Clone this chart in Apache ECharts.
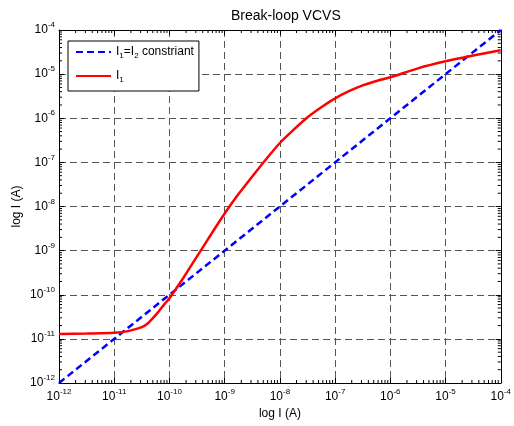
<!DOCTYPE html>
<html>
<head>
<meta charset="utf-8">
<script src="https://cdn.jsdelivr.net/npm/echarts@6/dist/echarts.min.js"></script>
<style>html,body{margin:0;padding:0;background:#fff}#c{width:514px;height:426px}</style>
</head>
<body>
<div id="c"></div>
<script>
const titleText = 'Break-loop VCVS';
const axisName = 'log I (A)';
const axisMin = 1e-12;
const axisMax = 1e-4;
const seriesNames = ['I1=I2 constriant', 'I1'];

const blueX = [1e-12, 1e-4];
const blueY = [1e-12, 1e-4];

const redX = [1e-12, 3.16e-12, 1e-11, 1.78e-11, 3.16e-11, 3.98e-11, 5.01e-11, 6.31e-11, 7.94e-11, 1e-10,
  1.26e-10, 1.78e-10, 3.16e-10, 5.62e-10, 1e-9, 1.78e-9, 3.16e-9, 5.62e-9, 1e-8, 1.78e-8,
  3.16e-8, 5.62e-8, 1e-7, 1.78e-7, 3.16e-7, 5.62e-7, 1e-6, 3.16e-6, 1e-5, 3.16e-5, 1e-4];
const redY = [1.288e-11, 1.32e-11, 1.38e-11, 1.5e-11, 1.84e-11, 2.2e-11, 2.95e-11, 4.1e-11, 5.89e-11, 8.32e-11,
  1.26e-10, 2.4e-10, 7.41e-10, 2.29e-9, 6.92e-9, 1.91e-8, 4.79e-8, 1.18e-7, 2.75e-7, 5.5e-7,
  1.05e-6, 1.78e-6, 2.82e-6, 4.1e-6, 5.55e-6, 7.0e-6, 8.5e-6, 1.35e-5, 1.95e-5, 2.63e-5, 3.47e-5];

// minor tick positions (2..9 per decade)
const minorTicks = [];
for (let d = -12; d < -4; d++) for (let k = 2; k <= 9; k++) minorTicks.push(k * Math.pow(10, d));

const fmt = v => '{b|10}{e|' + Math.round(Math.log10(v)) + '}';
const labelRich = {
  b: { fontSize: 12, color: '#000', fontFamily: 'Liberation Sans' },
  e: { fontSize: 8, color: '#000', fontFamily: 'Liberation Sans', padding: [0, 0, 10, 0] }
};

function logAxis(pos, showLabel, extra) {
  return Object.assign({
    type: 'log', logBase: 10, min: axisMin, max: axisMax, position: pos,
    axisLine: { show: true, onZero: false, lineStyle: { color: '#000', width: 1 } },
    axisTick: { show: true, inside: true, length: 5, lineStyle: { color: '#000' } },
    axisLabel: { show: showLabel, formatter: fmt, rich: labelRich },
    splitLine: { show: false }
  }, extra);
}

const chart = echarts.init(document.getElementById('c'), null, { renderer: 'canvas' });

const legendRich = {
  n: { fontSize: 12, color: '#000', fontFamily: 'Liberation Sans' },
  s: { fontSize: 8, color: '#000', fontFamily: 'Liberation Sans', padding: [8, 0, 0, 0] }
};

chart.setOption({
  animation: false,
  backgroundColor: '#fff',
  title: {
    text: titleText, left: 226, top: 4,
    textStyle: { fontSize: 14, fontWeight: 'normal', color: '#000', fontFamily: 'Liberation Sans' }
  },
  grid: { left: 59, right: 11, top: 30, bottom: 43 },
  legend: {
    data: seriesNames,
    orient: 'vertical', left: 68, top: 41,
    backgroundColor: '#fff', borderColor: '#000', borderWidth: 1, borderRadius: 0,
    padding: [5, 5, 7, 7], itemGap: 10, itemWidth: 35, itemHeight: 14,
    itemStyle: { color: 'rgba(0,0,0,0)', borderWidth: 0, opacity: 0 },
    formatter: function (name) {
      if (name === seriesNames[0]) return '{n|I}{s|1}{n|=I}{s|2}{n| constriant}';
      return '{n|I}{s|1}';
    },
    textStyle: { rich: legendRich, padding: [0, 0, 0, 0] }
  },
  xAxis: [
    logAxis('bottom', true, {
      name: axisName, nameLocation: 'middle', nameGap: 23,
      nameTextStyle: { fontSize: 12, color: '#000', fontFamily: 'Liberation Sans' },
      axisLabel: { show: true, formatter: fmt, rich: labelRich, margin: 5 },
      splitLine: { show: true, lineStyle: { color: '#555', type: [7, 4], width: 1 } }
    }),
    logAxis('top', false, {})
  ],
  yAxis: [
    logAxis('left', true, {
      name: axisName, nameLocation: 'middle', nameGap: 36, nameRotate: 90, nameMoveOverlap: false,
      nameTextStyle: { fontSize: 12, color: '#000', fontFamily: 'Liberation Sans' },
      axisLabel: { show: true, formatter: fmt, rich: labelRich, margin: 4 },
      splitLine: { show: true, lineStyle: { color: '#555', type: [7, 4], width: 1 } }
    }),
    logAxis('right', false, {})
  ],
  series: [
    {
      type: 'custom', name: 'xminor', silent: true, z: 5,
      data: minorTicks.map(v => [v, axisMin]),
      renderItem: function (params, api) {
        const v = api.value(0);
        const b = api.coord([v, axisMin]);
        const t = api.coord([v, axisMax]);
        const st = { stroke: '#000', lineWidth: 1 };
        return { type: 'group', children: [
          { type: 'line', shape: { x1: b[0], y1: b[1], x2: b[0], y2: b[1] - 3 }, style: st },
          { type: 'line', shape: { x1: t[0], y1: t[1], x2: t[0], y2: t[1] + 3 }, style: st }
        ] };
      }
    },
    {
      type: 'custom', name: 'yminor', silent: true, z: 5,
      data: minorTicks.map(v => [axisMin, v]),
      renderItem: function (params, api) {
        const v = api.value(1);
        const l = api.coord([axisMin, v]);
        const r = api.coord([axisMax, v]);
        const st = { stroke: '#000', lineWidth: 1 };
        return { type: 'group', children: [
          { type: 'line', shape: { x1: l[0], y1: l[1], x2: l[0] + 3, y2: l[1] }, style: st },
          { type: 'line', shape: { x1: r[0], y1: r[1], x2: r[0] - 3, y2: r[1] }, style: st }
        ] };
      }
    },
    {
      name: seriesNames[0], type: 'line', symbol: 'none', z: 10,
      data: blueX.map((x, i) => [x, blueY[i]]),
      lineStyle: { color: '#0000ff', width: 2.5, type: [7, 4] },
      itemStyle: { color: '#0000ff' }
    },
    {
      name: seriesNames[1], type: 'line', symbol: 'none', smooth: 0.2, z: 11,
      data: redX.map((x, i) => [x, redY[i]]),
      lineStyle: { color: '#ff0000', width: 2.5 },
      itemStyle: { color: '#ff0000' }
    }
  ]
});
</script>
</body>
</html>
